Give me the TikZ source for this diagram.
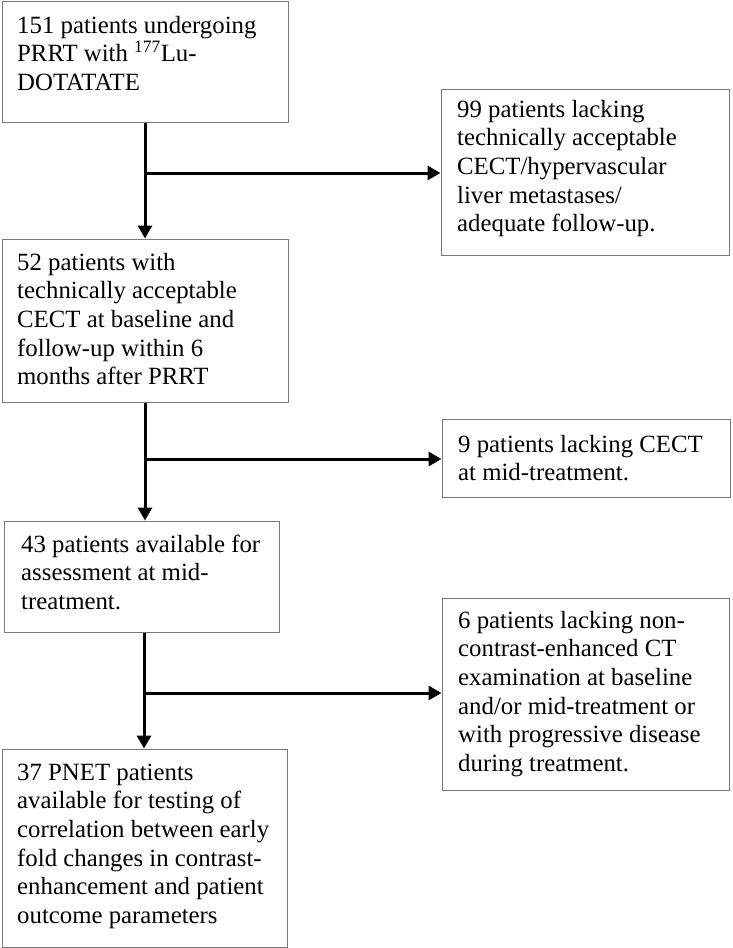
\documentclass[tikz,border=0pt]{standalone}
\usepackage{fontspec}
\setmainfont{Liberation Serif}
\usetikzlibrary{arrows.meta}
\definecolor{boxgray}{RGB}{120,120,120}
\begin{document}
\begin{tikzpicture}[x=1pt,y=-1pt,
  box/.style={draw=boxgray, line width=1pt, rectangle, inner sep=0pt},
  txt/.style={anchor=base west, inner sep=0pt, font=\fontsize{24.8}{28.7}\selectfont},
  arr/.style={line width=3pt, -{Triangle[length=13pt,width=14pt]}}]
\useasboundingbox (0,0) rectangle (732,948);
% boxes
\node[box, minimum width=286pt, minimum height=121pt] (b1) at (145,61.5) {};
\node[box, minimum width=288pt, minimum height=166pt] (b2) at (585,172) {};
\node[box, minimum width=286pt, minimum height=163pt] (b3) at (145,320.5) {};
\node[box, minimum width=288pt, minimum height=78pt] (b4) at (586,458) {};
\node[box, minimum width=275pt, minimum height=111pt] (b5) at (141.5,576.5) {};
\node[box, minimum width=287pt, minimum height=192pt] (b6) at (585.5,694) {};
\node[box, minimum width=285pt, minimum height=198pt] (b7) at (144.5,848) {};
% texts
\node[txt] (t1) at (17,33) {\parbox[t]{280pt}{\raggedright 151 patients undergoing\\PRRT with \textsuperscript{177}Lu-\\DOTATATE}};
\node[txt] (t2) at (457,117) {\parbox[t]{280pt}{\raggedright 99 patients lacking\\technically acceptable\\CECT/hypervascular\\liver metastases/\\adequate follow-up.}};
\node[txt] (t3) at (17,270) {\parbox[t]{280pt}{\raggedright 52 patients with\\technically acceptable\\CECT at baseline and\\follow-up within 6\\months after PRRT}};
\node[txt] (t4) at (458,452) {\parbox[t]{280pt}{\raggedright 9 patients lacking CECT\\at mid-treatment.}};
\node[txt] (t5) at (21,552) {\parbox[t]{280pt}{\raggedright 43 patients available for\\assessment at mid-\\treatment.}};
\node[txt] (t6) at (458,628) {\parbox[t]{280pt}{\raggedright 6 patients lacking non-\\contrast-enhanced CT\\examination at baseline\\and/or mid-treatment or\\with progressive disease\\during treatment.}};
\node[txt] (t7) at (17,780) {\parbox[t]{280pt}{\raggedright 37 PNET patients\\available for testing of\\correlation between early\\fold changes in contrast-\\enhancement and patient\\outcome parameters}};
% connectors
\coordinate (j1) at (145,173);
\coordinate (j2) at (145,459);
\coordinate (j3) at (144,693);
\draw[arr] (b1.south -| j1) -- (b3.north -| j1);
\draw[arr] (j1) -- (j1 -| b2.west);
\draw[arr] (b3.south -| j2) -- (b5.north -| j2);
\draw[arr] (j2) -- (j2 -| b4.west);
\draw[arr] (b5.south -| j3) -- (b7.north -| j3);
\draw[arr] (j3) -- (j3 -| b6.west);
\end{tikzpicture}
\end{document}
